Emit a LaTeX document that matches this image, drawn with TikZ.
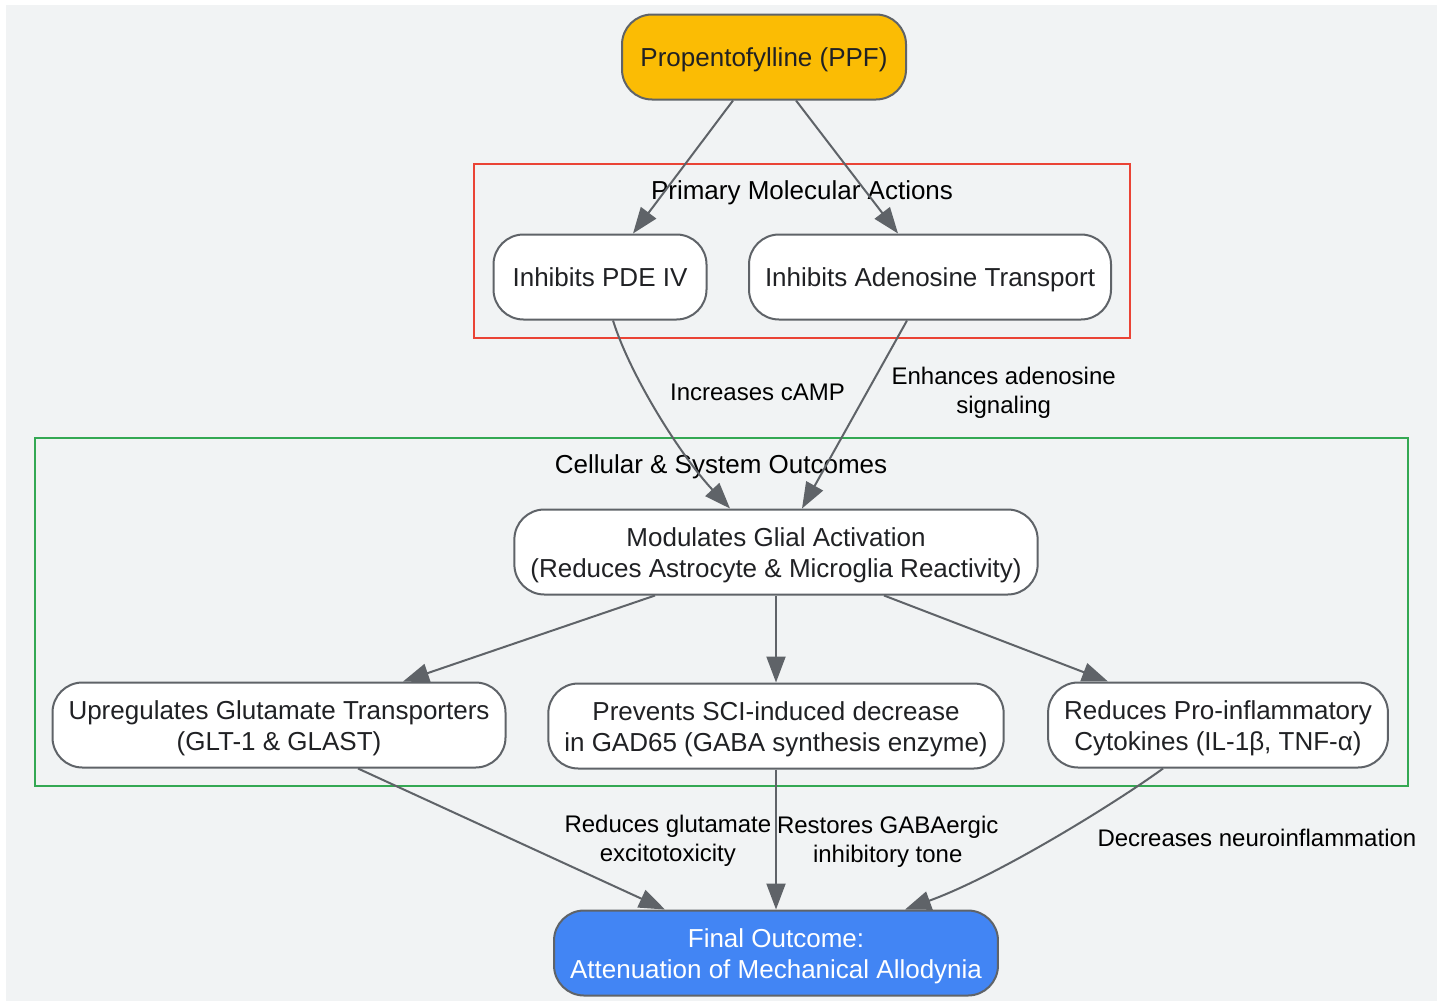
\documentclass[tikz,border=0pt]{standalone}
\usepackage{fontspec}
\setmainfont{Liberation Sans}
\usepackage{xcolor}
\usepackage{tikz}
\usetikzlibrary{arrows.meta,positioning}

\definecolor{bggray}{HTML}{F1F3F4}
\definecolor{edgegray}{HTML}{5F6368}
\definecolor{txtdark}{HTML}{202124}
\definecolor{ppfyellow}{HTML}{FBBC04}
\definecolor{finalblue}{HTML}{4285F4}
\definecolor{clusterred}{HTML}{EA4335}
\definecolor{clustergreen}{HTML}{34A853}

\begin{document}
\begin{tikzpicture}[
      x=0.5pt, y=-0.5pt,
      box_node/.style={
         rectangle,
         rounded corners=15pt,
         draw=edgegray,
         line width=1pt,
         fill=white,
         text=txtdark,
         align=center,
         inner xsep=8pt,
         minimum height=42.5pt,
         execute at begin node={\rule{0pt}{12.5pt}},
         execute at end node={\rule[-3.1pt]{0pt}{0pt}},
         font=\fontsize{13}{15.5}\selectfont},
      two_lines/.style={
         execute at begin node={\rule{0pt}{28.1pt}}},
      box_ppf/.style={
         box_node,
         fill=ppfyellow},
      box_final/.style={
         box_node,
         two_lines,
         fill=finalblue,
         text=white},
      cluster_red/.style={
         draw=clusterred,
         line width=1pt,
         inner sep=0pt},
      cluster_green/.style={
         draw=clustergreen,
         line width=1pt,
         inner sep=0pt},
      cluster_label/.style={
         text=black,
         text depth=0pt,
         font=\fontsize{13}{16}\selectfont},
      edge_label/.style={
         text=black,
         align=center,
         inner sep=0pt,
         font=\fontsize{12}{14.5}\selectfont},
      arrow_gray/.style={
        -{Triangle[length=13pt,width=9.5pt]},
        line width=1pt,
        draw=edgegray,
        }
]
      \useasboundingbox (0,0) rectangle (1443,1001);
      \fill[bggray] (6,5) rectangle (1437,1001);

      %clusters
      \node[cluster_red, minimum width=328pt, minimum height=87pt] (actions) at (802,251) {};
      \node[cluster_label] (actions_lbl) at (802,190) {Primary Molecular Actions};
      \node[cluster_green, minimum width=686.5pt, minimum height=174pt] (outcomes) at (721.5,612) {};
      \node[cluster_label] (outcomes_lbl) at (721,464) {Cellular \& System Outcomes};

      %source
      \node[box_ppf, minimum width=142pt] (ppf) at (764,57) {Propentofylline (PPF)};

      \node[box_node, minimum width=106.5pt] (pde) at (600,277) {Inhibits PDE IV};
      \node[box_node] (adeno) at (930,277) {Inhibits Adenosine Transport};

      \node[box_node, two_lines] (glial) at (776,552) {Modulates Glial Activation\\(Reduces Astrocyte \& Microglia Reactivity)};

      \node[box_node, two_lines, below=43.5pt of glial] (prevents) {Prevents SCI-induced decrease\\in GAD65 (GABA synthesis enzyme)};
      \node[box_node, two_lines] (upreg) at (279,725) {Upregulates Glutamate Transporters\\(GLT-1 \& GLAST)};
      \node[box_node, two_lines] (reduces) at (1218,725) {Reduces Pro-inflammatory\\Cytokines (IL-1β, TNF-α)};

      \node[box_final, below=70pt of prevents] (final) {Final Outcome:\\Attenuation of Mechanical Allodynia};

    \foreach \i/\si/\j/\sj in {% start node/shift/end node/shift
      ppf/-15.5/pde/16.5,
      ppf/16/adeno/-16,
      glial/-60.5/upreg/62,
      glial/0/prevents/0,
      glial/54/reduces/-55}
      \draw [arrow_gray] ([xshift=\si pt]\i.south) -- ([xshift=\sj pt]\j.north);

      \draw [arrow_gray] ([xshift=6.5pt]pde.south) .. controls (630,375) and (680,455) .. node[edge_label, pos=0.4, right=11pt, yshift=1pt] {Increases cAMP} ([xshift=-23pt]glial.north);
      \draw [arrow_gray] ([xshift=-11.5pt]adeno.south) -- node[edge_label, pos=0.385, right=12pt] {Enhances adenosine\\signaling} ([xshift=13pt]glial.north);

      \draw [arrow_gray] ([xshift=39.5pt]upreg.south) -- node[edge_label, pos=0.5, right=26pt, yshift=-1pt] {Reduces glutamate\\excitotoxicity} ([xshift=-55.5pt]final.north);
      \draw [arrow_gray] (prevents.south) -- node[edge_label, pos=0.5, right=0pt, yshift=-1pt] {Restores GABAergic\\inhibitory tone} (final.north);
      \draw [arrow_gray] ([xshift=-27.5pt]reduces.south) .. controls (1120,800) and (1000,875) .. node[edge_label, pos=0.5, right=21.5pt] {Decreases neuroinflammation} ([xshift=64.5pt]final.north);

\end{tikzpicture}
\end{document}
